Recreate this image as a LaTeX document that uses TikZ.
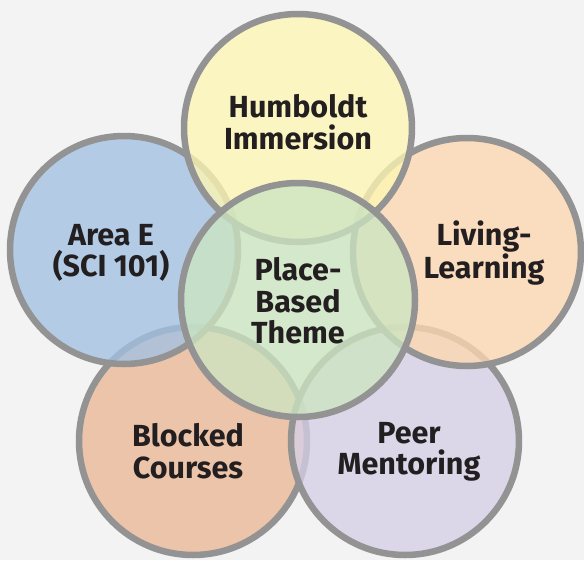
\documentclass[tikz,border=0pt]{standalone}
\usepackage{fontspec}
\setmainfont{Fira Sans}
\definecolor{bgc}{RGB}{243,243,243}
\definecolor{ringc}{RGB}{147,147,147}
\definecolor{txtc}{RGB}{35,31,32}
\definecolor{yelc}{RGB}{253,246,179}
\definecolor{bluc}{RGB}{162,193,226}
\definecolor{orac}{RGB}{253,216,176}
\definecolor{salc}{RGB}{235,184,150}
\definecolor{purc}{RGB}{213,207,229}
\definecolor{grnc}{RGB}{204,229,193}
\tikzset{
  petal/.style={circle, draw=ringc, line width=6.5pt, fill opacity=0.78, draw opacity=1, minimum size=228pt, inner sep=0pt},
  label/.style={align=center, text=txtc, font=\bfseries\fontsize{30.5}{31.5}\selectfont, text opacity=1}
}
\begin{document}
\begin{tikzpicture}[x=1pt,y=-1pt]
\fill[bgc] (0,0) rectangle (584,560);
\useasboundingbox (0,0) rectangle (584,560);
\node[petal, fill=salc] (blk) at (193,441) {};
\node[petal, fill=purc] (peer) at (405,441) {};
\node[petal, fill=bluc] (area) at (124,250) {};
\node[petal, fill=orac] (liv) at (467,252) {};
\node[petal, fill=yelc] (hum) at (298,128) {};
\node[petal, fill=grnc, minimum size=234pt] (ctr) at (298,300) {};
\node[label] (thum) at (298,122) {Humboldt\\Immersion};
\node[label] (tarea) at (111,253) {Area E\\(SCI 101)};
\node[label] (tliv) at (484,253) {Living-\\Learning};
\node[label] (tctr) at (298,301) {Place-\\Based\\Theme};
\node[label] (tblk) at (188,451) {Blocked\\Courses};
\node[label] (tpeer) at (409,452) {Peer\\Mentoring};
\end{tikzpicture}
\end{document}
